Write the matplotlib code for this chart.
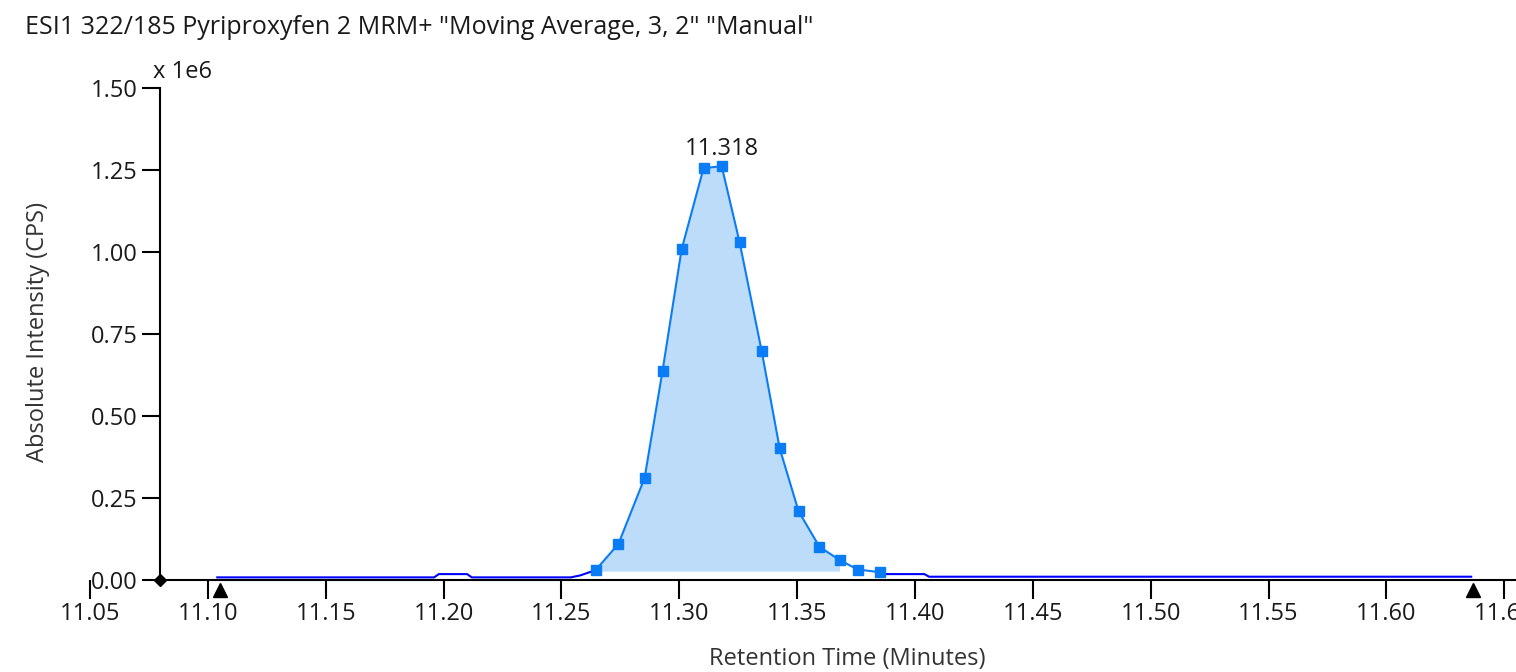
import matplotlib
matplotlib.use("Agg")
import matplotlib.pyplot as plt
import matplotlib.transforms as mtransforms

# ---- data (intensity in units of 1e6 CPS) ----
left_time = [11.104, 11.196, 11.198, 11.210, 11.212, 11.254, 11.258, 11.2645]
left_int = [0.008, 0.008, 0.018, 0.018, 0.008, 0.008, 0.014, 0.030]

peak_time = [11.2645, 11.2742, 11.2853, 11.2929, 11.3010, 11.3103, 11.3180,
             11.3256, 11.3350, 11.3426, 11.3506, 11.3595, 11.3680, 11.3757, 11.3850]
peak_int = [0.030, 0.110, 0.311, 0.637, 1.008, 1.255, 1.262,
            1.030, 0.697, 0.402, 0.210, 0.101, 0.061, 0.032, 0.024]

right_time = [11.3850, 11.387, 11.404, 11.406, 11.636]
right_int = [0.024, 0.018, 0.018, 0.010, 0.010]

fill_base = 0.027
fill_count = 13
apex_label = "11.318"
apex_time = 11.318
apex_int = 1.262

marker_times = [11.105, 11.6367]
origin_time = 11.0797

x_ticks = [11.05, 11.10, 11.15, 11.20, 11.25, 11.30, 11.35, 11.40, 11.45,
           11.50, 11.55, 11.60, 11.65]
y_ticks = [0.0, 0.25, 0.50, 0.75, 1.00, 1.25, 1.50]

title = 'ESI1 322/185 Pyriproxyfen 2 MRM+ "Moving Average, 3, 2" "Manual"'

# ---- figure ----
plt.rcParams['font.family'] = ['Open Sans', 'DejaVu Sans']
W, H = 1516, 672
fig = plt.figure(figsize=(W / 100, H / 100), dpi=100)
ax = fig.add_axes([66.4 / W, (H - 580) / H, 1449.6 / W, 492 / H])
ax.set_xlim(11.04, 11.655)
ax.set_ylim(0, 1.5)

txt = '#1a1a1a'
dark_blue = '#0000ff'
light_blue = '#0a7cf5'
fill_col = '#bcdcfa'
fs = 17

ax.fill_between(peak_time[:fill_count], peak_int[:fill_count], fill_base,
                color=fill_col, lw=0, zorder=1)
ax.plot(left_time, left_int, color=dark_blue, lw=1.5, zorder=2, clip_on=False)
ax.plot(right_time, right_int, color=dark_blue, lw=1.5, zorder=2, clip_on=False)
ax.plot(peak_time, peak_int, color=light_blue, lw=1.5, marker='s', ms=7.5,
        mec=light_blue, mfc=light_blue, zorder=3, clip_on=False)

ax.annotate(apex_label, (apex_time, apex_int), xytext=(0, 4),
            textcoords='offset points', ha='center', va='bottom',
            fontsize=fs, color=txt)

# baseline markers below axis
below = ax.transData + mtransforms.ScaledTranslation(0, -9.5 / 100, fig.dpi_scale_trans)
for t in marker_times:
    ax.plot([t], [0], marker='^', ms=9.5, color='black', clip_on=False,
            transform=below, zorder=5)
ax.plot([origin_time], [0], marker='D', ms=6, color='black', clip_on=False, zorder=5)

# spines
for s in ['top', 'right']:
    ax.spines[s].set_visible(False)
ax.spines['left'].set_position(('data', origin_time))
ax.spines['left'].set_linewidth(1.5)
ax.spines['bottom'].set_linewidth(1.5)
ax.spines['bottom'].set_bounds(origin_time, 11.655)

ax.set_xticks(x_ticks)
ax.set_xticklabels([f"{v:.2f}" for v in x_ticks])
ax.set_yticks(y_ticks)
ax.set_yticklabels([f"{v:.2f}" for v in y_ticks])
ax.tick_params(axis='x', direction='out', length=14, width=1.5, pad=2,
               labelsize=fs, colors='black', labelcolor=txt)
ax.tick_params(axis='y', direction='out', length=13, width=1.5, pad=3,
               labelsize=fs, colors='black', labelcolor=txt)

fig.text(25 / W, 1 - 27 / H, title, ha='left', va='center', fontsize=18, color=txt)
fig.text(153 / W, 1 - 72 / H, 'x 1e6', ha='left', va='center', fontsize=fs, color=txt)
fig.text(38 / W, 1 - 332 / H, 'Absolute Intensity (CPS)', ha='center', va='center',
         rotation=90, fontsize=fs, color='#333333')
fig.text(847 / W, 1 - 659 / H, 'Retention Time (Minutes)', ha='center', va='center',
         fontsize=fs, color='#333333')

fig.savefig('out.png', dpi=100)
